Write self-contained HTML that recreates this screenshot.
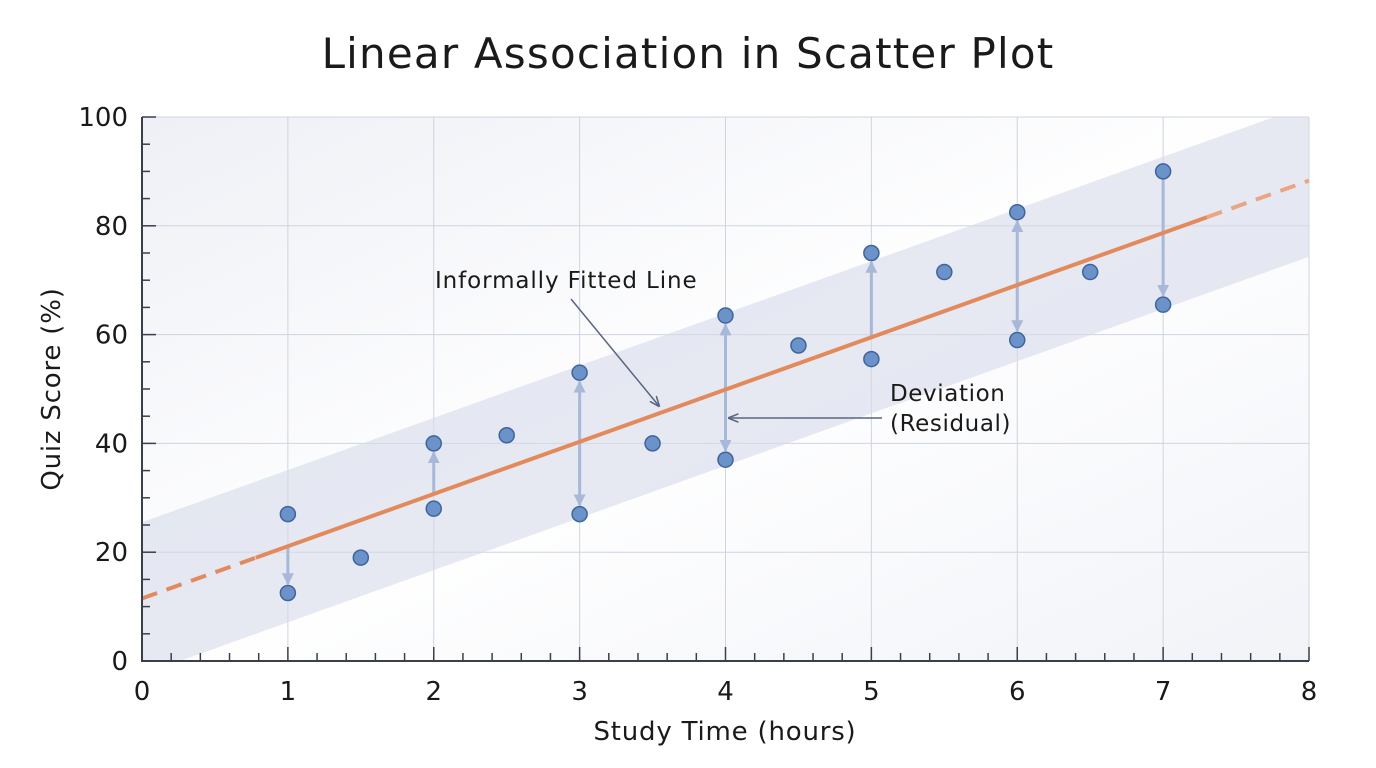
<!DOCTYPE html>
<html><head><meta charset="utf-8"><style>
html,body{margin:0;padding:0;background:#fff;}
svg{display:block;font-family:"DejaVu Sans","Liberation Sans",sans-serif;}
</style></head><body>
<svg id="chart" width="1376" height="768" viewBox="0 0 1376 768">
<defs>
<linearGradient id="bg" x1="0" y1="0" x2="1" y2="1">
<stop offset="0" stop-color="#eef0f6"/><stop offset="0.5" stop-color="#ffffff"/><stop offset="1" stop-color="#f1f3f8"/>
</linearGradient>
<clipPath id="clip"><rect x="142" y="117" width="1167" height="544"/></clipPath>
<marker id="ah" viewBox="0 0 10 10" refX="9" refY="5" markerWidth="4" markerHeight="4" orient="auto-start-reverse"><path d="M0,0L10,5L0,10z" fill="#a7b8d8"/></marker>
<marker id="ak" viewBox="0 0 10 10" refX="9" refY="5" markerWidth="7" markerHeight="7" orient="auto"><path d="M0,1L10,5L0,9" fill="none" stroke="#5a6580" stroke-width="1.5"/></marker>
</defs>
<text x="688" y="68" text-anchor="middle" font-size="42" letter-spacing="1.2" fill="#1a1a1a">Linear Association in Scatter Plot</text>
<rect x="142" y="117" width="1167" height="544" fill="url(#bg)"/>
<g id="grid"></g>
<g clip-path="url(#clip)"><polygon id="band" fill="#d5dbea" opacity="0.6"/></g>
<g id="resid"></g>
<g id="fit" clip-path="url(#clip)"></g>
<g id="pts"></g>
<g id="axes"></g>
<text x="435" y="288" font-size="23" letter-spacing="0.9" fill="#1a1a1a">Informally Fitted Line</text>
<line x1="571" y1="299" x2="659" y2="406" stroke="#5a6580" stroke-width="1.5" marker-end="url(#ak)"/>
<text x="890" y="401" font-size="23" letter-spacing="0.6" fill="#1a1a1a"><tspan x="890">Deviation</tspan><tspan x="890" dy="30">(Residual)</tspan></text>
<line x1="882" y1="418" x2="729" y2="418" stroke="#5a6580" stroke-width="1.5" marker-end="url(#ak)"/>
<text x="725" y="740" text-anchor="middle" font-size="26" letter-spacing="0.8" fill="#1a1a1a">Study Time (hours)</text>
<text transform="translate(60,389) rotate(-90)" text-anchor="middle" font-size="26" letter-spacing="0.8" fill="#1a1a1a">Quiz Score (%)</text>
</svg>
<script>
const xs=[1,1,1.5,2,2,2.5,3,3,3.5,4,4,4.5,5,5,5.5,6,6,6.5,7,7];
const ys=[27,12.5,19,40,28,41.5,53,27,40,63.5,37,58,75,55.5,71.5,82.5,59,71.5,90,65.5];
const xTicks=[0,1,2,3,4,5,6,7,8];
const yTicks=[0,20,40,60,80,100];
const fitIntercept=11.5, fitSlope=9.6, bandHalf=14;
const arrowFrom=[[1,21],[2,30.5],[3,53],[4,63.5],[5,59.5],[6,82.5],[7,90]];
const arrowTo=[[1,12.5],[2,40],[3,27],[4,37],[5,75],[6,59],[7,65.5]];
const arrowBoth=[false,false,true,true,false,true,false];
const NS='http://www.w3.org/2000/svg';
const X=v=>142+v*1167/8, Y=v=>661-v*5.44;
function mk(t,a,p){const e=document.createElementNS(NS,t);for(const k in a)e.setAttribute(k,a[k]);p.appendChild(e);return e;}
const grid=document.getElementById('grid');
xTicks.slice(1).forEach(v=>{const l=mk('line',{x1:X(v),x2:X(v),y1:117,y2:661,stroke:'#cfd4df','stroke-width':1},grid);

});
yTicks.slice(1).forEach(v=>{const l=mk('line',{x1:142,x2:1309,y1:Y(v),y2:Y(v),stroke:'#cfd4df','stroke-width':1},grid);

});
const f=x=>fitIntercept+fitSlope*x;
document.getElementById('band').setAttribute('points',`${X(0)},${Y(f(0)+bandHalf)} ${X(8)},${Y(f(8)+bandHalf)} ${X(8)},${Y(f(8)-bandHalf)} ${X(0)},${Y(f(0)-bandHalf)}`);
const resid=document.getElementById('resid');
arrowFrom.forEach((a,i)=>{const b=arrowTo[i];const dir=b[1]<a[1]?1:-1;
const l=mk('line',{x1:X(a[0]),y1:Y(a[1])+(arrowBoth[i]?dir*9:0),x2:X(b[0]),y2:Y(b[1])-dir*9,stroke:'#a7b8d8','stroke-width':3,'marker-end':'url(#ah)'},resid);
if(arrowBoth[i])l.setAttribute('marker-start','url(#ah)');

});
const fit=document.getElementById('fit');
const s1=mk('line',{x1:X(0),y1:Y(f(0)),x2:X(0.78),y2:Y(f(0.78)),stroke:'#e38a5c','stroke-width':4,'stroke-dasharray':'16 10'},fit);


const s2=mk('line',{x1:X(0.78),y1:Y(f(0.78)),x2:X(7.3),y2:Y(f(7.3)),stroke:'#e38a5c','stroke-width':4},fit);


const s3=mk('line',{x1:X(7.3),y1:Y(f(7.3)),x2:X(8),y2:Y(f(8)),stroke:'#eaa683','stroke-width':4,'stroke-dasharray':'16 10'},fit);


const pts=document.getElementById('pts');
xs.forEach((x,i)=>{const c=mk('circle',{cx:X(x),cy:Y(ys[i]),r:7.5,fill:'#6b93c9',stroke:'#3f649b','stroke-width':1.5},pts);

});
const ax=document.getElementById('axes');
mk('line',{x1:142,y1:117,x2:142,y2:661,stroke:'#3a3f4b','stroke-width':2},ax);
mk('line',{x1:141,y1:661,x2:1309,y2:661,stroke:'#3a3f4b','stroke-width':2},ax);
for(let v=0;v<=40;v++){const x=X(v/5),maj=v%5==0;mk('line',{x1:x,x2:x,y1:661,y2:661-(maj?14:8),stroke:'#3a3f4b','stroke-width':1.5},ax);}
for(let v=0;v<=20;v++){const y=Y(v*5),maj=v%4==0;mk('line',{x1:142,x2:142+(maj?14:8),y1:y,y2:y,stroke:'#3a3f4b','stroke-width':1.5},ax);}
xTicks.forEach(v=>{const t=mk('text',{x:X(v),y:700,'text-anchor':'middle','font-size':26,fill:'#1a1a1a'},ax);t.textContent=v;

});
yTicks.forEach(v=>{const t=mk('text',{x:128,y:Y(v)+9,'text-anchor':'end','font-size':26,fill:'#1a1a1a'},ax);t.textContent=v;

});
</script>
</body></html>
